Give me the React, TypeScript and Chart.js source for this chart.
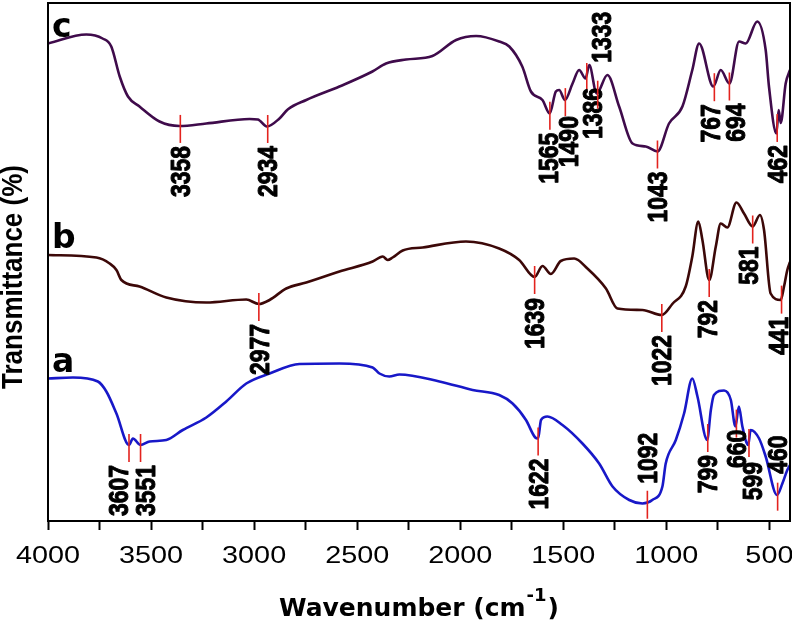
import React, { useEffect, useRef } from "react";
import { Chart, registerables } from "chart.js";

Chart.register(...registerables);

// ---------- data ----------
const X_MIN = 400;
const X_MAX = 4000;
const Y_MIN = 0;
const Y_MAX = 103.6;

const X_TICKS = [4000, 3750, 3500, 3250, 3000, 2750, 2500, 2250, 2000, 1750, 1500, 1250, 1000, 750, 500];
const X_TICK_LABELS = [4000, 3500, 3000, 2500, 2000, 1500, 1000, 500];

const SERIES_NAMES = ["a", "b", "c"];
const SERIES_COLORS = ["#1818c8", "#3c0808", "#3f0b4b"];

const WN_A = [4000, 3879, 3758, 3717, 3668, 3607, 3588, 3551, 3507, 3426, 3346, 3232, 3135, 3038, 2925, 2780, 2586, 2425, 2392, 2344, 2295, 2101, 1940, 1811, 1746, 1681, 1636, 1622, 1608, 1577, 1504, 1407, 1326, 1261, 1180, 1116, 1068, 1019, 1003, 954, 914, 874, 849, 802, 784, 769, 720, 687, 665, 648, 631, 603, 591, 550, 518, 463, 437, 413, 400];
const T_A = [28.5, 28.7, 27.9, 25.9, 21.5, 15.2, 16.5, 15.2, 15.9, 16.2, 18.2, 20.7, 23.9, 27.5, 29.5, 31.4, 31.5, 30.7, 29.5, 28.9, 29.3, 27.9, 26.2, 25.2, 23.5, 20.2, 16.7, 16.5, 20.2, 20.9, 19.2, 15.5, 11.5, 6.9, 4.2, 3.5, 4.2, 6.9, 11.5, 16.2, 21.5, 28.5, 24.9, 16.2, 22.2, 25.2, 26.1, 24.2, 18.9, 22.9, 18.9, 15.2, 18.2, 16.5, 12.9, 5.2, 7.5, 10.2, 11.2];

const WN_B = [4000, 3765, 3701, 3668, 3644, 3556, 3426, 3232, 3038, 2977, 2925, 2844, 2747, 2586, 2425, 2376, 2352, 2328, 2279, 2182, 1972, 1811, 1714, 1639, 1601, 1560, 1512, 1447, 1383, 1293, 1237, 1116, 1022, 971, 906, 874, 845, 825, 792, 760, 736, 704, 660, 623, 581, 546, 526, 494, 445, 429, 413, 400];
const T_B = [53.2, 52.7, 51.5, 50.2, 48.2, 46.9, 44.7, 43.7, 44.3, 43.4, 44.2, 46.5, 47.7, 49.9, 51.9, 52.9, 52.2, 52.7, 54.1, 54.7, 55.9, 54.5, 52.2, 48.8, 51.0, 49.4, 52.0, 52.5, 50.5, 46.5, 42.5, 42.2, 41.2, 43.4, 46.9, 52.9, 59.9, 56.2, 48.2, 54.9, 59.5, 58.7, 63.7, 61.5, 58.9, 61.2, 58.2, 45.5, 44.2, 46.9, 50.2, 51.8];

const WN_C = [4000, 3814, 3735, 3693, 3652, 3612, 3556, 3459, 3362, 3232, 3022, 2982, 2938, 2877, 2837, 2747, 2586, 2426, 2360, 2263, 2135, 2020, 1923, 1811, 1762, 1699, 1657, 1601, 1566, 1536, 1520, 1492, 1455, 1423, 1392, 1374, 1338, 1286, 1229, 1164, 1100, 1043, 987, 922, 874, 841, 772, 736, 694, 647, 615, 559, 518, 502, 466, 455, 445, 421, 400];
const T_C = [95.5, 97.3, 96.5, 94.9, 88.9, 84.9, 82.9, 79.9, 79.0, 79.5, 80.4, 80.3, 78.9, 80.5, 82.3, 84.2, 86.9, 89.9, 91.5, 92.3, 93.0, 96.2, 97.0, 95.9, 94.9, 90.9, 85.9, 84.2, 81.5, 85.9, 86.2, 84.2, 87.5, 90.2, 88.5, 91.2, 85.5, 89.2, 82.9, 75.5, 74.9, 73.9, 79.5, 82.9, 90.2, 95.5, 86.9, 90.2, 87.5, 95.9, 95.5, 99.9, 94.2, 86.9, 77.5, 82.2, 79.6, 87.5, 90.2];

const PEAKS_A = [3607, 3551, 1622, 1092, 799, 660, 599, 460];
const PEAKS_B = [2977, 1639, 1022, 792, 581, 441];
const PEAKS_C = [3358, 2934, 1565, 1490, 1386, 1333, 1043, 767, 694, 462];

const X_TITLE = "Wavenumber (cm";
const X_TITLE_SUP = "-1";
const X_TITLE_END = ")";
const Y_TITLE = "Transmittance (%)";

// ---------- label layout (styling, not data) ----------
const LABEL_DX: Record<string, number> = {
  "3607": -11, "3551": 5, "1490": 3, "1386": 6, "767": -4, "694": 6,
  "599": 3, "441": -3, "581": -4, "792": -2, "1565": -2, "1333": 4,
};
const LABEL_BELOW_GAP: Record<string, number> = {
  "660": -8, "1386": -3, "1490": 0, "1639": 4, "599": 5,
};
const LABEL_ABOVE_GAP: Record<string, number> = { "1333": 18, "1092": 7, "460": 9 };

function interp(wn: number[], t: number[], w: number): number {
  for (let i = 0; i < wn.length - 1; i++) {
    const a = wn[i];
    const b = wn[i + 1];
    if (w <= a && w >= b) {
      const f = (a - w) / (a - b);
      return t[i] + f * (t[i + 1] - t[i]);
    }
  }
  return t[t.length - 1];
}

const SERIES = [
  { name: SERIES_NAMES[0], color: SERIES_COLORS[0], wn: WN_A, t: T_A, peaks: PEAKS_A },
  { name: SERIES_NAMES[1], color: SERIES_COLORS[1], wn: WN_B, t: T_B, peaks: PEAKS_B },
  { name: SERIES_NAMES[2], color: SERIES_COLORS[2], wn: WN_C, t: T_C, peaks: PEAKS_C },
];

const LABEL_FONT_SIZE = 27;

const annotationPlugin = {
  id: "ftirAnnotations",
  afterDatasetsDraw(chart: any) {
    const { ctx, chartArea } = chart;
    const xs = chart.scales.x;
    const ys = chart.scales.y;
    ctx.save();
    for (const s of SERIES) {
      // series letter
      ctx.fillStyle = "#000";
      ctx.font = 'bold 33px "DejaVu Sans", sans-serif';
      ctx.textAlign = "left";
      ctx.textBaseline = "alphabetic";
      ctx.fillText(s.name, chartArea.left + 4, ys.getPixelForValue(s.t[0]) - 7);

      for (const p of s.peaks) {
        const px = xs.getPixelForValue(p);
        const py = ys.getPixelForValue(interp(s.wn, s.t, p));
        const top = py - 11;
        const bot = py + 17;
        ctx.strokeStyle = "#e3231e";
        ctx.lineWidth = 1.6;
        ctx.beginPath();
        ctx.moveTo(px, top);
        ctx.lineTo(px, bot);
        ctx.stroke();

        const key = String(p);
        const dx = LABEL_DX[key] ?? 0;
        const above = key in LABEL_ABOVE_GAP;
        const anchorY = above ? top - LABEL_ABOVE_GAP[key] : bot + (LABEL_BELOW_GAP[key] ?? 3);
        ctx.save();
        ctx.translate(px + dx, anchorY);
        ctx.rotate(-Math.PI / 2);
        ctx.scale(0.85, 1);
        ctx.font = `bold ${LABEL_FONT_SIZE}px "Liberation Sans", Arial, sans-serif`;
        ctx.textAlign = above ? "left" : "right";
        ctx.textBaseline = "alphabetic";
        ctx.fillStyle = "#000";
        ctx.strokeStyle = "#000";
        ctx.lineWidth = 1;
        ctx.lineJoin = "round";
        const yy = (0.716 * LABEL_FONT_SIZE) / 2;
        ctx.fillText(key, 0, yy);
        ctx.strokeText(key, 0, yy);
        ctx.restore();
      }
    }
    ctx.restore();
  },
  afterDraw(chart: any) {
    const { ctx, chartArea } = chart;
    const xs = chart.scales.x;
    ctx.save();
    // frame
    ctx.strokeStyle = "#000";
    ctx.lineWidth = 2;
    ctx.strokeRect(chartArea.left, chartArea.top, chartArea.right - chartArea.left, chartArea.bottom - chartArea.top);

    // x tick labels (horizontally widened like the reference)
    ctx.fillStyle = "#000";
    ctx.font = '24px "Liberation Sans", Arial, sans-serif';
    ctx.textAlign = "center";
    ctx.textBaseline = "alphabetic";
    for (const v of X_TICK_LABELS) {
      const px = xs.getPixelForValue(v);
      ctx.save();
      ctx.translate(px, chartArea.bottom + 41.5);
      ctx.scale(1.2, 1);
      ctx.fillText(String(v), 0, 0);
      ctx.restore();
    }

    // x title with superscript
    ctx.textAlign = "left";
    const mainFont = 'bold 25px "DejaVu Sans", sans-serif';
    const supFont = 'bold 18px "DejaVu Sans", sans-serif';
    ctx.font = mainFont;
    const w1 = ctx.measureText(X_TITLE).width;
    const w3 = ctx.measureText(X_TITLE_END).width;
    ctx.font = supFont;
    const w2 = ctx.measureText(X_TITLE_SUP).width;
    const total = w1 + w2 + w3 + 2;
    let x0 = (chartArea.left + chartArea.right) / 2 - total / 2;
    const base = chart.height - 6;
    ctx.font = mainFont;
    ctx.fillText(X_TITLE, x0, base);
    x0 += w1 + 1;
    ctx.font = supFont;
    ctx.fillText(X_TITLE_SUP, x0, base - 15);
    x0 += w2 + 1;
    ctx.font = mainFont;
    ctx.fillText(X_TITLE_END, x0, base);

    // y title
    ctx.save();
    ctx.translate(21.5, (chartArea.top + chartArea.bottom) / 2 + 15);
    ctx.rotate(-Math.PI / 2);
    ctx.scale(1, 1.15);
    ctx.font = 'bold 26px "Liberation Sans", Arial, sans-serif';
    ctx.textAlign = "center";
    ctx.textBaseline = "alphabetic";
    ctx.fillText(Y_TITLE, 0, 0);
    ctx.restore();

    ctx.restore();
  },
};

export default function App() {
  const canvasRef = useRef<HTMLCanvasElement | null>(null);

  useEffect(() => {
    const canvas = canvasRef.current;
    if (!canvas) return;
    const chart = new Chart(canvas, {
      type: "line",
      data: {
        datasets: SERIES.map((s) => ({
          label: s.name,
          data: s.wn.map((w, i) => ({ x: w, y: s.t[i] })),
          borderColor: s.color,
          backgroundColor: s.color,
          borderWidth: 2.6,
          pointRadius: 0,
          fill: false,
          cubicInterpolationMode: "monotone" as const,
        })),
      },
      options: {
        animation: false,
        responsive: false,
        devicePixelRatio: 1,
        layout: { padding: { left: 48, top: 3, right: 2, bottom: 0 } },
        plugins: {
          legend: { display: false },
          tooltip: { enabled: false },
        },
        scales: {
          x: {
            type: "linear",
            min: X_MIN,
            max: X_MAX,
            reverse: true,
            afterBuildTicks: (scale: any) => {
              scale.ticks = X_TICKS.map((v) => ({ value: v }));
            },
            afterFit: (scale: any) => {
              scale.height = 101;
              scale.paddingLeft = 0;
              scale.paddingRight = 0;
            },
            ticks: {
              display: false,
              autoSkip: false,
              maxRotation: 0,
              minRotation: 0,
            },
            grid: {
              display: true,
              drawOnChartArea: false,
              drawTicks: true,
              tickLength: 9,
              tickWidth: 2,
              tickColor: "#000",
            },
            border: { display: false },
          },
          y: {
            type: "linear",
            display: false,
            min: Y_MIN,
            max: Y_MAX,
          },
        },
      },
      plugins: [annotationPlugin],
    });
    return () => chart.destroy();
  }, []);

  return (
    <div style={{ position: "absolute", left: 0, top: 0, width: 792, height: 622, background: "#fff" }}>
      <canvas ref={canvasRef} width={792} height={622} style={{ display: "block" }} />
    </div>
  );
}
